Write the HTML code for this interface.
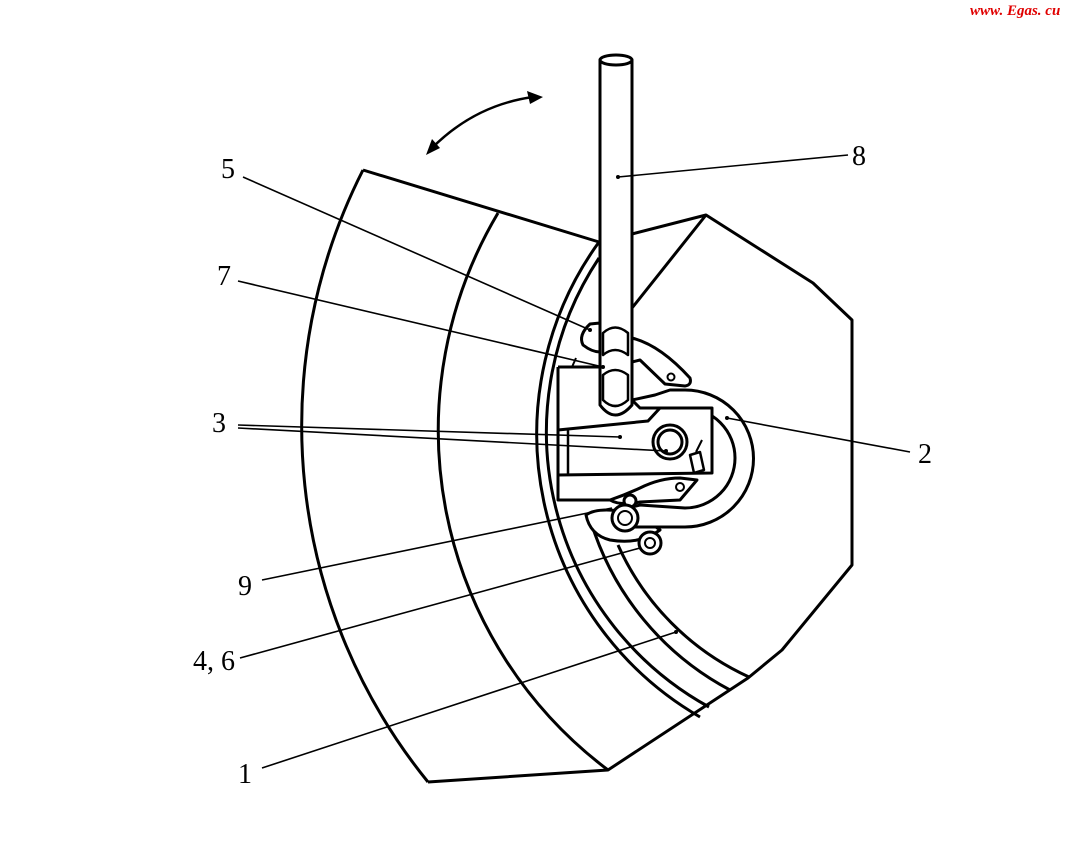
<!DOCTYPE html>
<html><head><meta charset="utf-8"><style>
html,body{margin:0;padding:0;background:#fff;width:1075px;height:848px;overflow:hidden}
svg{display:block}
text{font-family:"Liberation Serif",serif;font-size:28px;fill:#000}
</style></head><body>
<svg width="1075" height="848" viewBox="0 0 1075 848" xmlns="http://www.w3.org/2000/svg">
<text x="970" y="15" style="font-size:15px;font-style:italic;font-weight:bold;fill:#e00000">www. Egas. cu</text>
<g fill="none" stroke="#000" stroke-width="3" stroke-linejoin="round">
<!-- outer sector -->
<path d="M363,170 A565,565 0 0 0 428,782"/>
<path d="M363,170 L599,242"/>
<path d="M428,782 L608,770 L748,678 L782,650 L852,565 L852,320 L813,283 L706,215 L632,234"/>
<path d="M706,215 L632,308"/>
<path d="M498,213 A425,425 0 0 0 608,770"/>
<path d="M599,242 A327,327 0 0 0 700,717"/>
<path d="M599,258 A314,314 0 0 0 709,707"/>
<path d="M591,522 A285,285 0 0 0 730,690"/>
<path d="M618,545 A263,263 0 0 0 749,677"/>
<!-- curved arrow -->
<path d="M432,148 Q475,105 533,97" stroke-width="2.5"/>
</g>
<polygon points="543,97 527,91 530,104" fill="#000"/>
<polygon points="426,155 432,139 440,148" fill="#000"/>
<!-- mechanism -->
<g fill="#fff" stroke="#000" stroke-width="3" stroke-linejoin="round">
<!-- frame bars -->
<path d="M558,367 L600,367 M558,367 L558,500 L622,500" fill="none"/>
<path d="M576,358 L572,367" fill="none" stroke-width="2"/>
<!-- lower link -->
<path d="M586,515 Q600,505 640,515 L660,530 Q640,545 610,540 Q590,535 586,515 Z"/>
<!-- U bracket -->
<path d="M655,395 L670,390 L685,390 A68,68 0 0 1 685,527 L630,527 L620,510 L640,505 L685,508 A50,50 0 0 0 685,408 L640,408 L632,400 Z"/>
<!-- right handle lever -->
<path d="M632,338 Q660,345 690,378 Q692,385 685,386 L665,384 L640,360 L632,362 Z"/>
<!-- lever 5 -->
<path d="M600,323 L590,324 Q578,335 583,345 Q592,352 600,352 Z"/>
<!-- pipe -->
<path d="M600,60 L600,405 Q615,425 632,405 L632,60 Z"/>
<ellipse cx="616" cy="60" rx="16" ry="5"/>
<path d="M603,333 Q615,322 628,333 L628,355 Q615,345 603,355 Z M603,375 Q615,365 628,375 L628,400 Q615,412 603,400 Z" stroke-width="2.5"/>
<!-- arm 3 -->
<path d="M558,430 L648,421 L660,408 L712,408 L712,473 L558,475 Z"/>
<path d="M568,430 L568,474" fill="none" stroke-width="2.5"/>
<circle cx="670" cy="442" r="17"/>
<circle cx="670" cy="442" r="12"/>
<path d="M690,455 L700,452 L704,470 L694,473 Z" stroke-width="2.5"/>
<path d="M696,452 L702,440" fill="none" stroke-width="2"/>
<!-- lower jaw -->
<path d="M610,500 Q625,495 640,488 Q660,478 680,478 L697,480 L680,500 L640,502 Q620,506 610,500 Z"/>
<circle cx="680" cy="487" r="4" stroke-width="2"/>
<circle cx="671" cy="377" r="3.5" stroke-width="2"/>
<!-- rollers -->
<circle cx="630" cy="501" r="6"/>
<circle cx="625" cy="518" r="13"/>
<circle cx="625" cy="518" r="7" stroke-width="2"/>
<circle cx="650" cy="543" r="11"/>
<circle cx="650" cy="543" r="5" stroke-width="2"/>
</g>
<!-- leaders -->
<g stroke="#000" stroke-width="1.6" fill="none">
<path d="M848,155 L618,177"/>
<path d="M243,177 L590,330"/>
<path d="M238,281 L603,367"/>
<path d="M238,425 L620,437"/>
<path d="M238,428 L666,451"/>
<path d="M910,452 L727,418"/>
<path d="M262,580 L612,508"/>
<path d="M240,658 L640,548"/>
<path d="M262,768 L676,632"/>
</g>
<g fill="#000">
<circle cx="618" cy="177" r="2"/><circle cx="590" cy="330" r="2"/><circle cx="603" cy="367" r="2"/>
<circle cx="620" cy="437" r="2"/><circle cx="666" cy="451" r="2"/><circle cx="727" cy="418" r="2"/>
<circle cx="676" cy="632" r="2"/>
</g>
<text x="852" y="165">8</text>
<text x="221" y="178">5</text>
<text x="217" y="285">7</text>
<text x="212" y="432">3</text>
<text x="918" y="463">2</text>
<text x="238" y="595">9</text>
<text x="193" y="670">4, 6</text>
<text x="238" y="783">1</text>
</svg>
</body></html>
